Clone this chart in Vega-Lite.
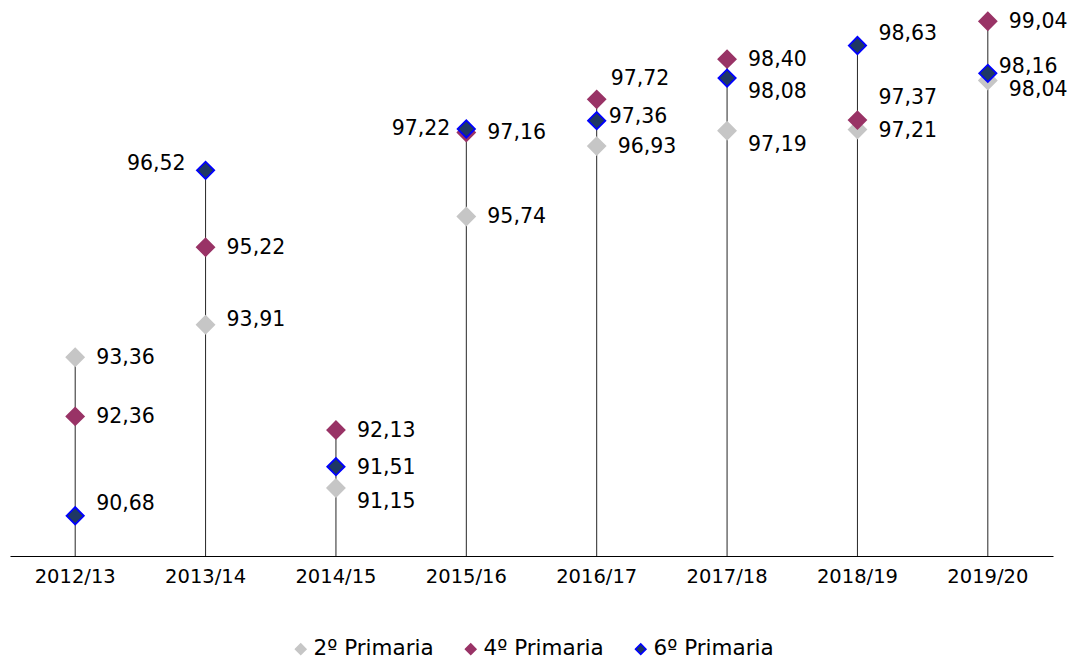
{
  "$schema": "https://vega.github.io/schema/vega-lite/v6.json",
  "width": 1043,
  "height": 556,
  "autosize": "none",
  "padding": {"left": 10, "top": 0, "right": 18, "bottom": 105},
  "background": "white",
  "config": {
    "view": {"stroke": null},
    "font": "DejaVu Sans",
    "locale": {"number": {"decimal": ",", "thousands": ".", "grouping": [3], "currency": ["", " €"]}},
    "legend": {"labelFontSize": 21.5, "labelFont": "DejaVu Sans", "labelColor": "#000000", "symbolSize": 110, "symbolStrokeWidth": 1.5, "columnPadding": 26, "labelOffset": 2}
  },
  "data": {
    "values": [
      {"year": "2012/13", "serie": "2º Primaria", "value": 93.36},
      {"year": "2013/14", "serie": "2º Primaria", "value": 93.91},
      {"year": "2014/15", "serie": "2º Primaria", "value": 91.15},
      {"year": "2015/16", "serie": "2º Primaria", "value": 95.74},
      {"year": "2016/17", "serie": "2º Primaria", "value": 96.93},
      {"year": "2017/18", "serie": "2º Primaria", "value": 97.19},
      {"year": "2018/19", "serie": "2º Primaria", "value": 97.21},
      {"year": "2019/20", "serie": "2º Primaria", "value": 98.04},
      {"year": "2012/13", "serie": "4º Primaria", "value": 92.36},
      {"year": "2013/14", "serie": "4º Primaria", "value": 95.22},
      {"year": "2014/15", "serie": "4º Primaria", "value": 92.13},
      {"year": "2015/16", "serie": "4º Primaria", "value": 97.16},
      {"year": "2016/17", "serie": "4º Primaria", "value": 97.72},
      {"year": "2017/18", "serie": "4º Primaria", "value": 98.40},
      {"year": "2018/19", "serie": "4º Primaria", "value": 97.37},
      {"year": "2019/20", "serie": "4º Primaria", "value": 99.04},
      {"year": "2012/13", "serie": "6º Primaria", "value": 90.68},
      {"year": "2013/14", "serie": "6º Primaria", "value": 96.52},
      {"year": "2014/15", "serie": "6º Primaria", "value": 91.51},
      {"year": "2015/16", "serie": "6º Primaria", "value": 97.22},
      {"year": "2016/17", "serie": "6º Primaria", "value": 97.36},
      {"year": "2017/18", "serie": "6º Primaria", "value": 98.08},
      {"year": "2018/19", "serie": "6º Primaria", "value": 98.63},
      {"year": "2019/20", "serie": "6º Primaria", "value": 98.16}
    ]
  },
  "encoding": {
    "x": {
      "field": "year", "type": "ordinal",
      "scale": {"paddingInner": 0, "paddingOuter": 0},
      "axis": {"title": null, "labelAngle": 0, "labelFontSize": 19.5, "labelFont": "DejaVu Sans", "labelColor": "#000000", "ticks": false, "labelPadding": 11, "domainColor": "#000000", "domainWidth": 1, "grid": false}
    }
  },
  "layer": [
    {
      "transform": [{"aggregate": [{"op": "max", "field": "value", "as": "maxv"}], "groupby": ["year"]}],
      "mark": {"type": "rule", "color": "#262626", "strokeWidth": 1},
      "encoding": {
        "y": {"field": "maxv", "type": "quantitative", "scale": {"domain": [90, 99.4], "nice": false, "zero": false}, "axis": null},
        "y2": {"datum": 90}
      }
    },
    {
      "mark": {"type": "point", "shape": "diamond", "filled": true, "size": 300, "strokeWidth": 1.8, "opacity": 1},
      "encoding": {
        "y": {"field": "value", "type": "quantitative"},
        "fill": {"field": "serie", "type": "nominal", "scale": {"domain": ["2º Primaria", "4º Primaria", "6º Primaria"], "range": ["#C6C6C6", "#993366", "#1F3864"]}, "legend": {"title": null, "orient": "none", "direction": "horizontal", "legendX": 280, "legendY": 638}},
        "stroke": {"field": "serie", "type": "nominal", "scale": {"domain": ["2º Primaria", "4º Primaria", "6º Primaria"], "range": ["#C6C6C6", "#993366", "#0000FF"]}, "legend": {"title": null, "orient": "none", "direction": "horizontal", "legendX": 280, "legendY": 638}},
        "order": {"field": "serie"}
      }
    },
    {
      "transform": [{"filter": "!((datum.year=='2012/13' && datum.serie=='6º Primaria') || (datum.year=='2018/19' && datum.serie=='6º Primaria') || (datum.year=='2018/19' && datum.serie=='4º Primaria') || (datum.year=='2016/17' && datum.serie=='4º Primaria') || (datum.year=='2014/15' && datum.serie=='2º Primaria') || (datum.year=='2017/18' && datum.serie=='6º Primaria') || (datum.year=='2017/18' && datum.serie=='2º Primaria') || (datum.year=='2019/20' && datum.serie=='2º Primaria') || (datum.year=='2019/20' && datum.serie=='6º Primaria') || (datum.year=='2013/14' && datum.serie=='6º Primaria') || (datum.year=='2015/16' && datum.serie=='6º Primaria') || (datum.year=='2016/17' && datum.serie=='6º Primaria') || (datum.year=='2013/14' && datum.serie=='2º Primaria'))"}],
      "mark": {"type": "text", "align": "left", "baseline": "middle", "dx": 21, "dy": 1, "fontSize": 20.5, "color": "#000000"},
      "encoding": {"y": {"field": "value", "type": "quantitative"}, "text": {"field": "value", "type": "quantitative", "format": ".2f"}}
    },
    {
      "transform": [{"filter": "(datum.year=='2012/13' && datum.serie=='6º Primaria') || (datum.year=='2018/19' && datum.serie=='6º Primaria')"}],
      "mark": {"type": "text", "align": "left", "baseline": "middle", "dx": 21, "dy": -12, "fontSize": 20.5, "color": "#000000"},
      "encoding": {"y": {"field": "value", "type": "quantitative"}, "text": {"field": "value", "type": "quantitative", "format": ".2f"}}
    },
    {
      "transform": [{"filter": "datum.year=='2013/14' && datum.serie=='2º Primaria'"}],
      "mark": {"type": "text", "align": "left", "baseline": "middle", "dx": 21, "dy": -5, "fontSize": 20.5, "color": "#000000"},
      "encoding": {"y": {"field": "value", "type": "quantitative"}, "text": {"field": "value", "type": "quantitative", "format": ".2f"}}
    },
    {
      "transform": [{"filter": "datum.year=='2016/17' && datum.serie=='6º Primaria'"}],
      "mark": {"type": "text", "align": "left", "baseline": "middle", "dx": 12, "dy": -4, "fontSize": 20.5, "color": "#000000"},
      "encoding": {"y": {"field": "value", "type": "quantitative"}, "text": {"field": "value", "type": "quantitative", "format": ".2f"}}
    },
    {
      "transform": [{"filter": "datum.year=='2016/17' && datum.serie=='4º Primaria'"}],
      "mark": {"type": "text", "align": "left", "baseline": "middle", "dx": 14, "dy": -20, "fontSize": 20.5, "color": "#000000"},
      "encoding": {"y": {"field": "value", "type": "quantitative"}, "text": {"field": "value", "type": "quantitative", "format": ".2f"}}
    },
    {
      "transform": [{"filter": "datum.year=='2018/19' && datum.serie=='4º Primaria'"}],
      "mark": {"type": "text", "align": "left", "baseline": "middle", "dx": 21, "dy": -22, "fontSize": 20.5, "color": "#000000"},
      "encoding": {"y": {"field": "value", "type": "quantitative"}, "text": {"field": "value", "type": "quantitative", "format": ".2f"}}
    },
    {
      "transform": [{"filter": "(datum.year=='2014/15' && datum.serie=='2º Primaria') || (datum.year=='2017/18' && datum.serie=='6º Primaria') || (datum.year=='2017/18' && datum.serie=='2º Primaria')"}],
      "mark": {"type": "text", "align": "left", "baseline": "middle", "dx": 21, "dy": 14, "fontSize": 20.5, "color": "#000000"},
      "encoding": {"y": {"field": "value", "type": "quantitative"}, "text": {"field": "value", "type": "quantitative", "format": ".2f"}}
    },
    {
      "transform": [{"filter": "datum.year=='2019/20' && datum.serie=='2º Primaria'"}],
      "mark": {"type": "text", "align": "left", "baseline": "middle", "dx": 21, "dy": 10, "fontSize": 20.5, "color": "#000000"},
      "encoding": {"y": {"field": "value", "type": "quantitative"}, "text": {"field": "value", "type": "quantitative", "format": ".2f"}}
    },
    {
      "transform": [{"filter": "datum.year=='2019/20' && datum.serie=='6º Primaria'"}],
      "mark": {"type": "text", "align": "left", "baseline": "middle", "dx": 11, "dy": -6, "fontSize": 20.5, "color": "#000000"},
      "encoding": {"y": {"field": "value", "type": "quantitative"}, "text": {"field": "value", "type": "quantitative", "format": ".2f"}}
    },
    {
      "transform": [{"filter": "datum.year=='2013/14' && datum.serie=='6º Primaria'"}],
      "mark": {"type": "text", "align": "right", "baseline": "middle", "dx": -20, "dy": -6, "fontSize": 20.5, "color": "#000000"},
      "encoding": {"y": {"field": "value", "type": "quantitative"}, "text": {"field": "value", "type": "quantitative", "format": ".2f"}}
    },
    {
      "transform": [{"filter": "datum.year=='2015/16' && datum.serie=='6º Primaria'"}],
      "mark": {"type": "text", "align": "right", "baseline": "middle", "dx": -16, "dy": 0, "fontSize": 20.5, "color": "#000000"},
      "encoding": {"y": {"field": "value", "type": "quantitative"}, "text": {"field": "value", "type": "quantitative", "format": ".2f"}}
    }
  ]
}
